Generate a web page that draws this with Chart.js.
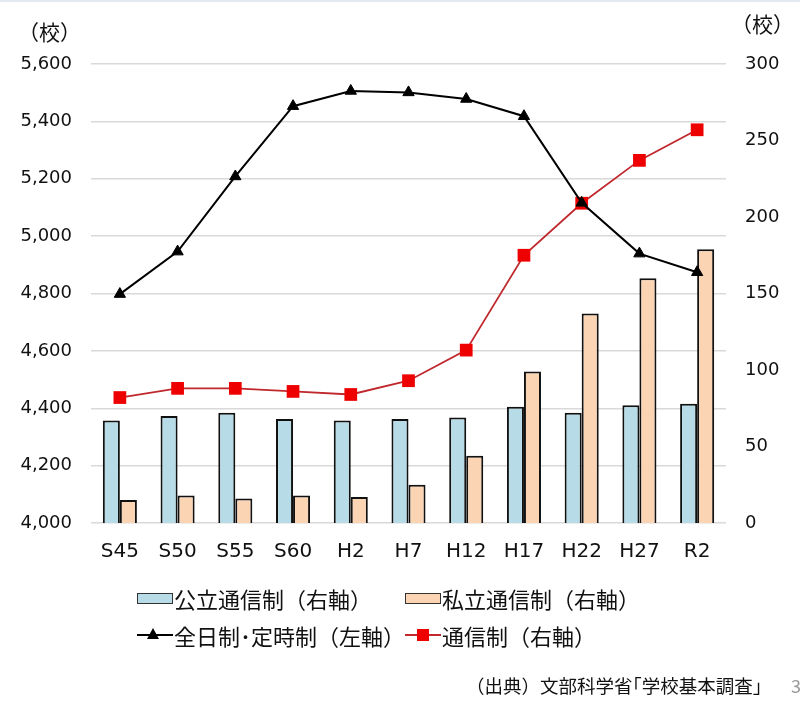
<!DOCTYPE html>
<html>
<head>
<meta charset="utf-8">
<script src="https://cdn.jsdelivr.net/npm/chart.js@4/dist/chart.umd.min.js"></script>
<style>
  body { margin: 0; background: #fff; }
  #wrap { position: relative; width: 800px; height: 707px; border-top: 2px solid #e3e9f0; box-sizing: border-box; }
  #chart { position: absolute; left: 0; top: 0; }
  .txt { position: absolute; font-family: "Noto Sans CJK JP", sans-serif; color: #111; white-space: nowrap; }
  .item { position: absolute; height: 30px; display: flex; align-items: center; font-family: "Noto Sans CJK JP", sans-serif; font-size: 22px; color: #111; white-space: nowrap; }
  .box { width: 34px; height: 9px; border: 1px solid #333; margin-right: 1px; }
  .mk { position: relative; width: 36px; height: 30px; margin-right: 1px; }
  .mk .ln { position: absolute; left: 0; right: 0; top: 14px; height: 2px; }
</style>
</head>
<body>
<div id="wrap">
  <canvas id="chart" width="800" height="707"></canvas>
  <div class="txt" style="left:18px; top:14px; font-size:21px;">（校）</div>
  <div class="txt" style="left:731px; top:6px; font-size:21px;">（校）</div>

  <div class="item" style="left:137px; top:581px;"><div class="box" style="background:#b7dce8;"></div>公立通信制（右軸）</div>
  <div class="item" style="left:405px; top:581px;"><div class="box" style="background:#fbd4b4;"></div>私立通信制（右軸）</div>
  <div class="item" style="left:137px; top:618px;">
    <div class="mk"><div class="ln" style="background:#000;"></div>
      <div style="position:absolute; left:10px; top:8px; width:0; height:0; border-left:6px solid transparent; border-right:6px solid transparent; border-bottom:11px solid #000;"></div>
    </div>全日制･定時制（左軸）</div>
  <div class="item" style="left:405px; top:618px;">
    <div class="mk"><div class="ln" style="background:#c0282d;"></div>
      <div style="position:absolute; left:12px; top:9px; width:12px; height:12px; background:#ee0000;"></div>
    </div>通信制（右軸）</div>

  <div class="txt" style="right:38px; top:670px; font-size:18.5px;">（出典）文部科学省｢学校基本調査｣</div>
  <div class="txt" style="left:791px; top:670px; font-size:18px; color:#999;">3</div>
</div>
<script>
const categories = ['S45', 'S50', 'S55', 'S60', 'H2', 'H7', 'H12', 'H17', 'H22', 'H27', 'R2'];
// 公立通信制 / 私立通信制 (right axis)
const publicCorr = [67, 70, 72, 68, 67, 68, 69, 76, 72, 77, 78];
const privateCorr = [15, 18, 16, 18, 17, 25, 44, 99, 137, 160, 179];
// 通信制 total (right axis)
const corrTotal = [82, 88, 88, 86, 84, 93, 113, 175, 209, 237, 257];
// 全日制・定時制 (left axis)
const fullPartTime = [4798, 4946, 5208, 5453, 5506, 5501, 5478, 5418, 5116, 4939, 4874];

const tickFont = { family: 'DejaVu Sans', size: 18 };

new Chart(document.getElementById('chart').getContext('2d'), {
  type: 'bar',
  data: {
    labels: categories,
    datasets: [
      {
        type: 'line',
        label: '全日制・定時制（左軸）',
        data: fullPartTime,
        yAxisID: 'yL',
        borderColor: '#000',
        backgroundColor: '#000',
        borderWidth: 2,
        pointStyle: 'triangle',
        pointRadius: 6.5,
        pointBorderWidth: 1,
        tension: 0,
        order: 0
      },
      {
        type: 'line',
        label: '通信制（右軸）',
        data: corrTotal,
        yAxisID: 'yR',
        borderColor: '#c0282d',
        backgroundColor: '#ee0000',
        pointBorderColor: '#ee0000',
        borderWidth: 1.8,
        pointStyle: 'rect',
        pointRadius: 9,
        pointBorderWidth: 0,
        tension: 0,
        order: 1
      },
      {
        label: '公立通信制（右軸）',
        data: publicCorr,
        yAxisID: 'yR',
        backgroundColor: '#b7dce8',
        borderColor: '#111',
        borderWidth: 2,
        barPercentage: 1,
        categoryPercentage: 0.59,
        order: 2
      },
      {
        label: '私立通信制（右軸）',
        data: privateCorr,
        yAxisID: 'yR',
        backgroundColor: '#fbd4b4',
        borderColor: '#111',
        borderWidth: 2,
        barPercentage: 1,
        categoryPercentage: 0.59,
        order: 2
      }
    ]
  },
  options: {
    responsive: false,
    animation: false,
    layout: { padding: { top: 62, bottom: 146, left: 0, right: 0 } },
    plugins: {
      legend: { display: false },
      tooltip: { enabled: false }
    },
    scales: {
      x: {
        grid: { display: false, drawTicks: false },
        border: { display: false },
        ticks: { font: { family: 'DejaVu Sans', size: 20 }, color: '#111', padding: 17, maxRotation: 0 },
        afterFit: s => { s.height = 40; }
      },
      yL: {
        position: 'left',
        min: 4000,
        max: 5600,
        grid: { color: '#d9d9d9', lineWidth: 1.5, drawTicks: false },
        border: { display: false },
        ticks: {
          stepSize: 200,
          font: tickFont,
          color: '#111',
          padding: 19,
          callback: v => v.toLocaleString('en-US')
        },
        afterFit: s => { s.width = 91; }
      },
      yR: {
        position: 'right',
        min: 0,
        max: 300,
        grid: { display: false, drawTicks: false },
        border: { display: false },
        ticks: { stepSize: 50, font: tickFont, color: '#111', padding: 19 },
        afterFit: s => { s.width = 74; }
      }
    }
  }
});
</script>
</body>
</html>
